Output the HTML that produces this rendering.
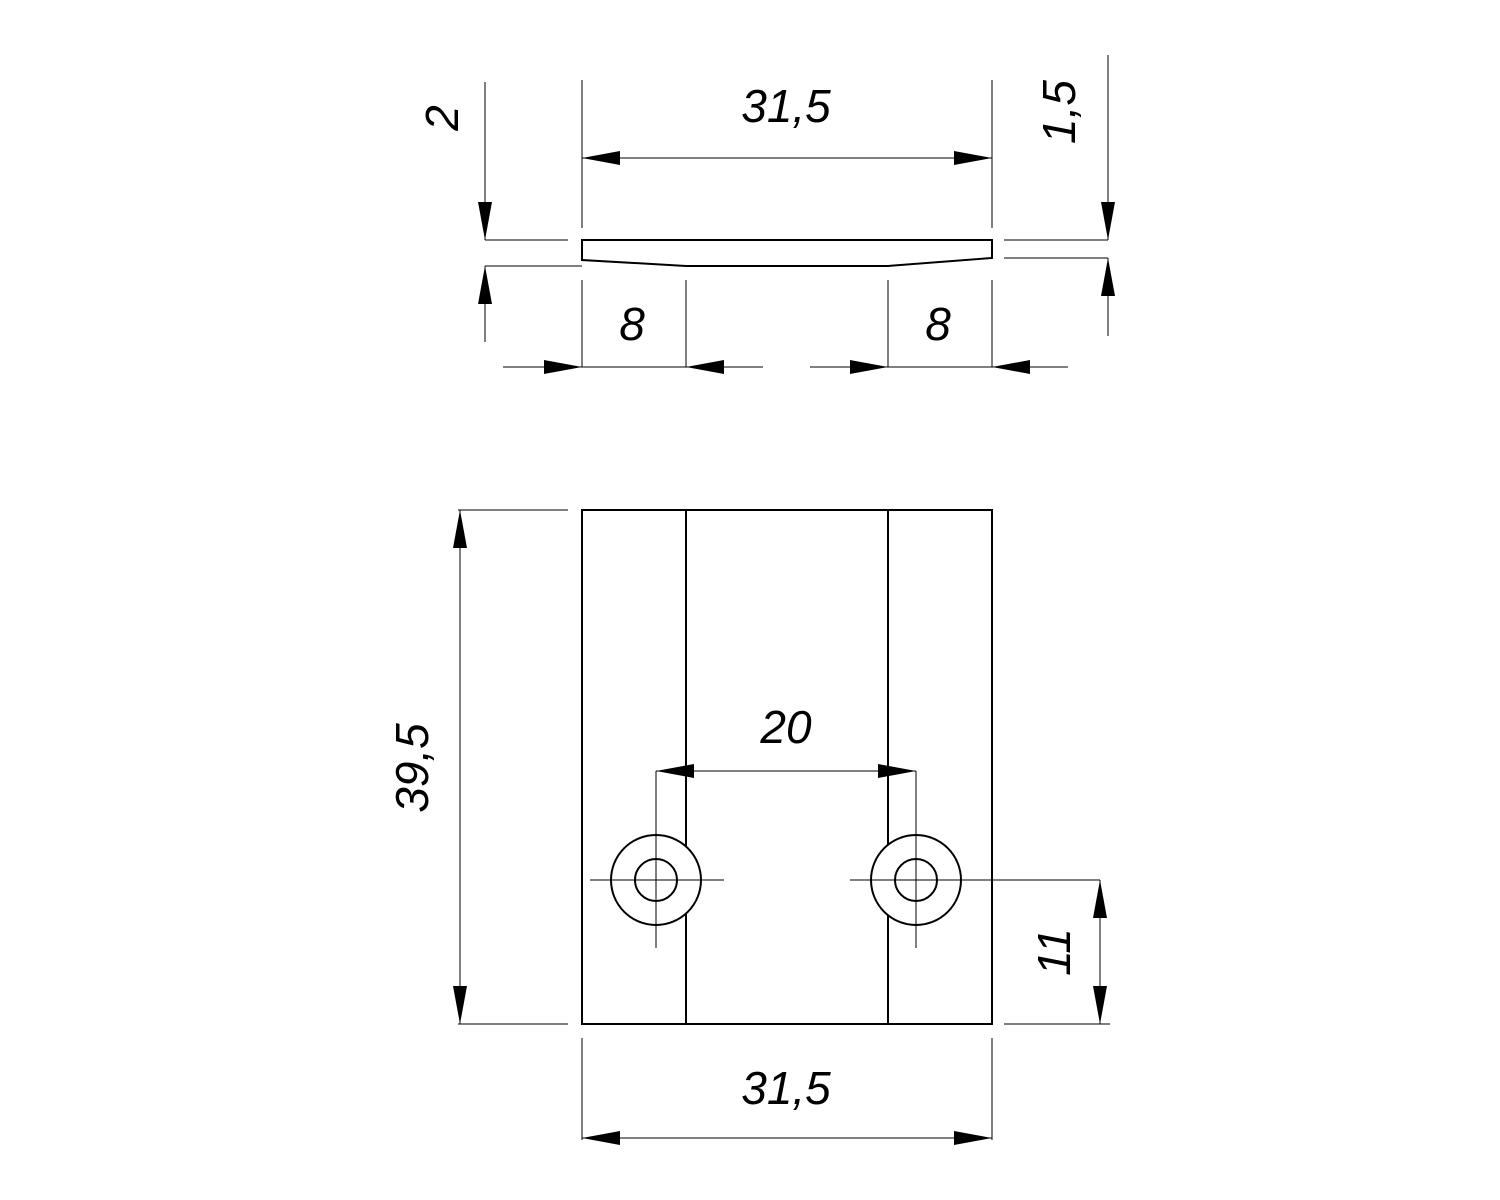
<!DOCTYPE html>
<html><head><style>body{margin:0;background:#fff}svg{display:block}</style></head><body>
<svg width="1500" height="1200" viewBox="0 0 1500 1200" xmlns="http://www.w3.org/2000/svg">
<defs>
<marker id="a" viewBox="0 0 38 14" refX="38" refY="7" markerWidth="38" markerHeight="14" markerUnits="userSpaceOnUse" orient="auto"><path d="M0,0L38,7L0,14Z" fill="#000"/></marker>
</defs>
<g stroke="#000" fill="none">
<!-- top view part -->
<path d="M582,240 L992,240 L992,258 L888,266 L686,266 L582,260 Z" stroke-width="2"/>
<g stroke-width="1">
<!-- 31,5 top -->
<line x1="582" y1="80" x2="582" y2="228"/><line x1="992" y1="80" x2="992" y2="228"/>
<line x1="700" y1="158" x2="582" y2="158" marker-end="url(#a)"/><line x1="700" y1="158" x2="992" y2="158" marker-end="url(#a)"/>
<!-- 2 -->
<line x1="485" y1="240" x2="568" y2="240"/><line x1="485" y1="266" x2="582" y2="266"/>
<line x1="485" y1="82" x2="485" y2="240" marker-end="url(#a)"/><line x1="485" y1="342" x2="485" y2="266" marker-end="url(#a)"/>
<!-- 1,5 -->
<line x1="1004" y1="240" x2="1108" y2="240"/><line x1="1004" y1="258" x2="1108" y2="258"/>
<line x1="1108" y1="55" x2="1108" y2="240" marker-end="url(#a)"/><line x1="1108" y1="336" x2="1108" y2="258" marker-end="url(#a)"/>
<!-- 8s -->
<line x1="582" y1="280" x2="582" y2="367"/><line x1="686" y1="280" x2="686" y2="367"/>
<line x1="888" y1="280" x2="888" y2="367"/><line x1="992" y1="280" x2="992" y2="367"/>
<line x1="503" y1="367" x2="582" y2="367" marker-end="url(#a)"/><line x1="582" y1="367" x2="686" y2="367"/><line x1="763" y1="367" x2="686" y2="367" marker-end="url(#a)"/>
<line x1="810" y1="367" x2="888" y2="367" marker-end="url(#a)"/><line x1="888" y1="367" x2="992" y2="367"/><line x1="1068" y1="367" x2="992" y2="367" marker-end="url(#a)"/>
</g>
<!-- bottom view -->
<rect x="582" y="510" width="410" height="514" stroke-width="2"/>
<line x1="686" y1="510" x2="686" y2="1024" stroke-width="2"/><line x1="888" y1="510" x2="888" y2="1024" stroke-width="2"/>
<circle cx="656" cy="880" r="45" stroke-width="2" fill="#fff"/><circle cx="656" cy="880" r="21" stroke-width="2"/>
<circle cx="916" cy="880" r="45" stroke-width="2" fill="#fff"/><circle cx="916" cy="880" r="21" stroke-width="2"/>
<g stroke-width="1">
<line x1="590" y1="880" x2="724" y2="880"/><line x1="850" y1="880" x2="1100" y2="880"/>
<line x1="656" y1="771" x2="656" y2="948"/><line x1="916" y1="771" x2="916" y2="948"/>
<line x1="790" y1="771" x2="656" y2="771" marker-end="url(#a)"/><line x1="790" y1="771" x2="916" y2="771" marker-end="url(#a)"/>
<!-- 39,5 -->
<line x1="458" y1="510" x2="568" y2="510"/><line x1="458" y1="1024" x2="568" y2="1024"/>
<line x1="460" y1="760" x2="460" y2="510" marker-end="url(#a)"/><line x1="460" y1="760" x2="460" y2="1024" marker-end="url(#a)"/>
<!-- 31,5 bottom -->
<line x1="582" y1="1038" x2="582" y2="1140"/><line x1="992" y1="1038" x2="992" y2="1140"/>
<line x1="780" y1="1138" x2="582" y2="1138" marker-end="url(#a)"/><line x1="780" y1="1138" x2="992" y2="1138" marker-end="url(#a)"/>
<!-- 11 -->
<line x1="1004" y1="1024" x2="1110" y2="1024"/>
<line x1="1100" y1="950" x2="1100" y2="880" marker-end="url(#a)"/><line x1="1100" y1="950" x2="1100" y2="1024" marker-end="url(#a)"/>
</g>
</g>
<g font-family="'Liberation Sans',sans-serif" font-style="italic" font-size="46" fill="#000" text-anchor="middle">
<text x="786" y="122">31,5</text>
<text x="786" y="1104">31,5</text>
<text x="786" y="743">20</text>
<text x="632" y="340">8</text>
<text x="938" y="340">8</text>
<text transform="translate(458,118) rotate(-90)">2</text>
<text transform="translate(1075,112) rotate(-90)">1,5</text>
<text transform="translate(428,768) rotate(-90)">39,5</text>
<text transform="translate(1070,952) rotate(-90)">11</text>
</g>
</svg>
</body></html>
